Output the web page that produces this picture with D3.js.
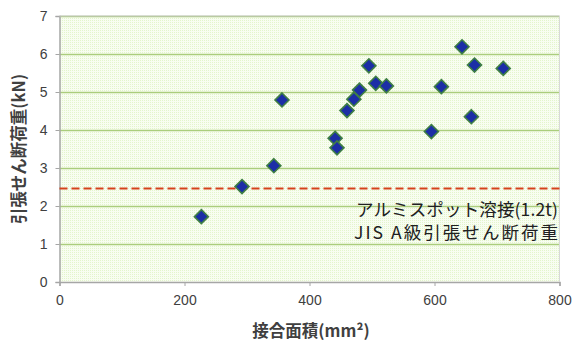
<!DOCTYPE html>
<html><head><meta charset="utf-8">
<script src="https://cdn.jsdelivr.net/npm/d3@7"></script>
<style>body{margin:0;background:#fff}svg{display:block}</style>
</head><body>
<svg id="c" width="574" height="342"></svg>
<script>
const areaX = [227, 292, 343, 356, 441, 444, 460, 471, 480, 495, 506, 523, 595, 611, 644, 659, 664, 710];
const loadY = [1.72, 2.51, 3.06, 4.79, 3.78, 3.53, 4.51, 4.81, 5.05, 5.69, 5.23, 5.16, 3.96, 5.14, 6.19, 4.35, 5.71, 5.62];
const xTicks = [0, 200, 400, 600, 800];
const yTicks = [0, 1, 2, 3, 4, 5, 6, 7];
const refLoad = 2.46;
const refLabel = ["アルミスポット溶接(1.2t)", "JIS A級引張せん断荷重"];
const xTitle = "接合面積(mm²)";
const yTitle = "引張せん断荷重(kN)";

const svg = d3.select("#c");
const L = 59.5, R = 559.5, T = 16, B = 282;
const x = d3.scaleLinear().domain([0, 800]).range([L, R]);
const y = d3.scaleLinear().domain([0, 7]).range([B, T]);
const font = "'Noto Sans CJK JP', 'Noto Sans', sans-serif";

const defs = svg.append("defs");
const pat = defs.append("pattern").attr("id","dots").attr("width",2).attr("height",2).attr("patternUnits","userSpaceOnUse");
pat.append("rect").attr("width",2).attr("height",2).attr("fill","#f8fdf1");
pat.append("rect").attr("width",1).attr("height",1).attr("fill","#e3f5cc");
const blur = defs.append("filter").attr("id","soft").attr("x","-50%").attr("y","-50%").attr("width","200%").attr("height","200%");
blur.append("feGaussianBlur").attr("stdDeviation",0.6);

svg.append("rect").attr("x",L).attr("y",T).attr("width",R-L).attr("height",B-T).attr("fill","url(#dots)");

// gridlines
svg.append("g").selectAll("line").data(yTicks.filter(d=>d>0)).join("line")
  .attr("x1",L).attr("x2",R).attr("y1",d=>y(d)+0.5).attr("y2",d=>y(d)+0.5)
  .attr("stroke","#aacd7c").attr("stroke-width",1.5);

// axes
const yAxis = svg.append("g").attr("transform",`translate(${L},0)`)
  .call(d3.axisLeft(y).tickValues(yTicks).tickSize(4).tickPadding(8).tickFormat(d3.format("d")));
const xAxis = svg.append("g").attr("transform",`translate(0,${B})`)
  .call(d3.axisBottom(x).tickValues(xTicks).tickSize(4).tickPadding(9).tickFormat(d3.format("d")));
[yAxis, xAxis].forEach(a=>{
  a.select(".domain").attr("stroke","#a6a6a6").attr("stroke-width",1.5);
  a.selectAll(".tick line").attr("stroke","#a6a6a6");
  a.selectAll("text").attr("fill","#404040").attr("font-size",14).attr("font-family","'Liberation Sans', Arial, sans-serif");
});
svg.append("line").attr("x1",L).attr("x2",R).attr("y1",T).attr("y2",T).attr("stroke","#c8c8c8");
svg.append("line").attr("x1",R).attr("x2",R).attr("y1",T).attr("y2",B).attr("stroke","#d8d8d8");

// reference line
svg.append("line").attr("x1",L).attr("x2",R).attr("y1",y(refLoad)).attr("y2",y(refLoad))
  .attr("stroke","#d4421a").attr("stroke-width",2).attr("stroke-dasharray","8,4");

// points
const pts = areaX.map((v,i)=>[v, loadY[i]]);
svg.append("g").attr("filter","url(#soft)").selectAll("path").data(pts).join("path")
  .attr("d","M0,-7L7,0L0,7L-7,0Z")
  .attr("transform",d=>`translate(${x(d[0])},${y(d[1])})`)
  .attr("fill","#1a2fa6").attr("stroke","#3f7f44").attr("stroke-width",1.6);

// annotation
const widths = [202, 204];
svg.append("g").selectAll("text").data(refLabel).join("text")
  .attr("x",558).attr("y",(d,i)=>216+i*23).attr("text-anchor","end")
  .attr("textLength",(d,i)=>widths[i]).attr("lengthAdjust","spacing")
  .attr("font-size",17.5).attr("fill","#202020").attr("font-family",font).text(d=>d);

// titles
svg.append("text").attr("x",311).attr("y",337).attr("text-anchor","middle")
  .attr("font-size",16.5).attr("font-weight","bold").attr("fill","#404040").attr("font-family",font).text(xTitle);
svg.append("text").attr("transform","translate(25,149) rotate(-90)").attr("text-anchor","middle")
  .attr("font-size",16.5).attr("font-weight","bold").attr("fill","#404040").attr("font-family",font).text(yTitle);
</script>
</body></html>
